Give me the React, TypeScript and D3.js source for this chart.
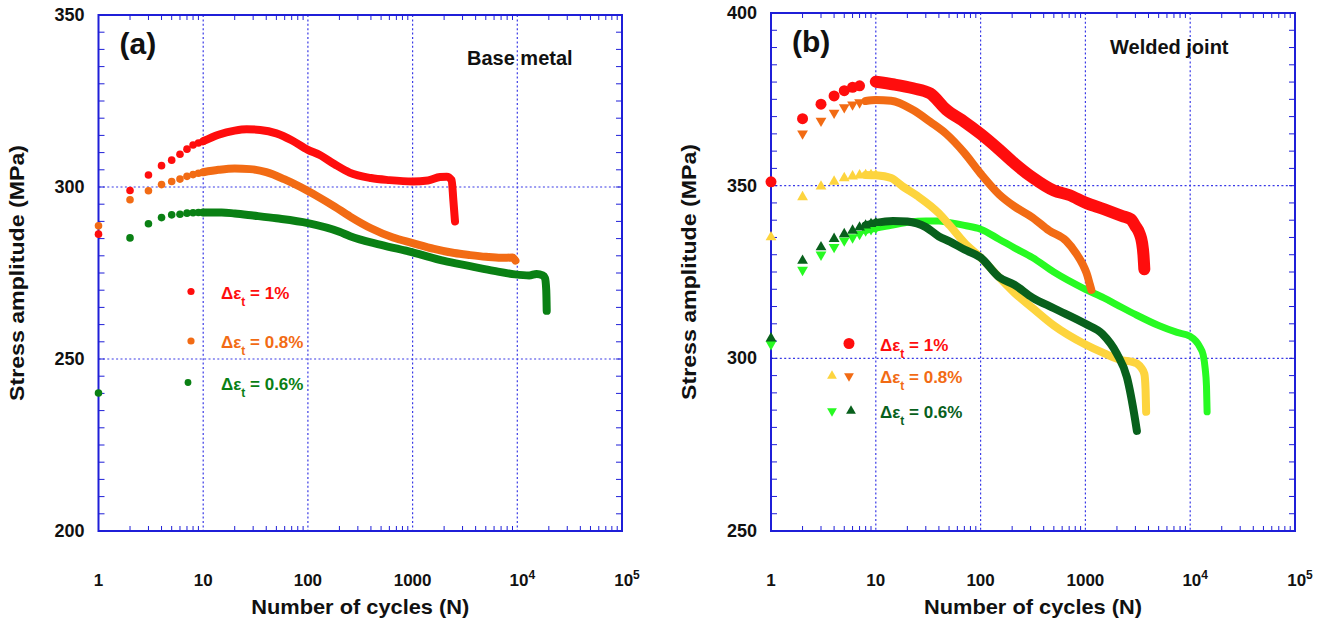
import React from 'react';
import * as d3 from 'd3';

// ---------- panel (a): base metal ----------
const aRedMarkN = [1, 2, 3, 4, 5, 6, 7, 8, 9, 10];
const aRedMarkS = [286.3, 299, 303.5, 306.2, 307.8, 309.5, 311, 312.2, 312.8, 313.3];
const aRedN = [10, 14, 20, 26, 35, 50, 70, 100, 130, 180, 250, 400, 600, 1000, 1400, 1830, 2120, 2360, 2450, 2540];
const aRedS = [313.3, 315.2, 316.4, 316.8, 316.6, 315.6, 313.6, 310.8, 309.3, 306.6, 304.2, 302.6, 302, 301.6, 301.9, 302.9, 303, 302, 296.2, 290];

const aOrangeMarkN = [1, 2, 3, 4, 5, 6, 7, 8, 9, 10];
const aOrangeMarkS = [288.7, 296.3, 298.9, 300.7, 301.6, 302.3, 303.1, 303.6, 304, 304.3];
const aOrangeN = [10, 14, 20, 28, 40, 60, 85, 120, 180, 253, 400, 650, 1000, 1600, 2500, 3540, 5000, 7000, 9000, 9600];
const aOrangeS = [304.3, 305, 305.4, 305.2, 304.3, 302.2, 300, 297.5, 294.3, 291.4, 288, 285.3, 283.7, 282, 280.8, 280.2, 279.7, 279.4, 279.5, 278.6];

const aGreenMarkN = [1, 2, 3, 4, 5, 6, 7, 8, 9, 10];
const aGreenMarkS = [240.1, 285.2, 289.3, 291.1, 291.9, 292.1, 292.4, 292.5, 292.6, 292.6];
const aGreenN = [10, 15, 20, 30, 50, 100, 200, 253, 500, 1000, 2000, 3540, 6000, 9500, 13000, 15300, 17500, 18400, 18900, 19100];
const aGreenS = [292.6, 292.6, 292.3, 291.7, 290.9, 289.5, 287, 285.7, 283.2, 281, 278.5, 277, 275.6, 274.6, 274.3, 274.7, 274.3, 273.5, 270, 264];

// ---------- panel (b): welded joint ----------
const bRedMarkN = [1, 2, 3, 4, 5, 6, 7];
const bRedMarkS = [351.1, 369.4, 373.6, 376, 377.5, 378.5, 378.9];
const bRedN = [10, 15, 22.7, 33, 47, 70, 100, 150, 210, 312, 500, 700, 1000, 1500, 2250, 2700, 3000, 3300, 3470, 3580, 3650];
const bRedS = [380.1, 379.3, 378.2, 376.7, 372, 368.5, 365, 360.5, 356.5, 352.4, 348.6, 347.3, 345.1, 343.2, 341.2, 340.3, 338.3, 336, 333.5, 330, 325.8];

const bOrangeMarkN = [2, 3, 4, 5, 6, 7];
const bOrangeMarkS = [365.1, 368.8, 371.1, 372.7, 373.5, 374.1];
const bOrangeN = [8, 10, 14, 22.7, 33, 47, 70, 100, 150, 210, 312, 450, 656, 820, 950, 1025, 1100, 1140];
const bOrangeS = [374.5, 374.8, 374.6, 371.9, 368.5, 365, 359.5, 353.5, 347.5, 344, 340.8, 337, 334, 330.3, 327, 324.7, 321.5, 319.8];

const bYellowMarkN = [1, 2, 3, 4, 5, 6, 7, 8, 9, 10];
const bYellowMarkS = [335.1, 346.7, 349.8, 351.2, 352.2, 352.7, 353, 353.1, 353.1, 353];
const bYellowN = [8, 10, 14, 18, 25, 40, 51, 70, 100, 150, 210, 312, 500, 1000, 1500, 2250, 2800, 3100, 3400, 3650, 3750, 3800];
const bYellowS = [353.1, 353, 352.2, 349.8, 347, 342, 338.4, 333.5, 329.2, 323.5, 319, 314.6, 309.5, 304, 301.5, 299.4, 299, 298.5, 297.3, 295.5, 291, 284.5];

const bLightMarkN = [1, 2, 3, 4, 5, 6, 7, 8, 9, 10];
const bLightMarkS = [304.1, 325.6, 330, 332.2, 334.1, 335, 336, 337, 337.4, 337.7];
const bLightN = [8, 10, 14, 21, 30, 40, 51, 70, 100, 150, 210, 312, 500, 1000, 1500, 2000, 3000, 5000, 7500, 9950, 12400, 13300, 13900, 14300, 14500];
const bLightS = [337, 337.7, 338.5, 339.5, 339.8, 339.8, 339.3, 338.5, 337.4, 334.5, 332, 329.2, 325, 320, 317.5, 315.5, 312.7, 309.5, 307.5, 306.4, 303.2, 301, 297, 292, 284.5];

const bDarkMarkN = [1, 2, 3, 4, 5, 6, 7, 8, 9, 10];
const bDarkMarkS = [305.8, 328.3, 332.2, 334.6, 336, 337, 337.9, 338.5, 338.9, 339.2];
const bDarkN = [8, 10, 14.6, 20, 30, 40, 51, 70, 100, 150, 210, 312, 500, 1000, 1450, 2000, 2490, 2990, 3100];
const bDarkS = [338.5, 339.2, 339.8, 339.6, 338, 335.3, 333.8, 331.5, 329.2, 323.5, 321.3, 317.6, 314.5, 310, 307.1, 301.3, 294.5, 282, 279];

const xTickLabels = ['1', '10', '100', '1000', '10^4', '10^5'];
const aYTicks = [200, 250, 300, 350];
const bYTicks = [250, 300, 350, 400];

const RED = '#ff0d0d';
const ORANGE = '#f26b14';
const GREEN = '#0a8014';
const YELLOW = '#fdd43e';
const LIGHTGREEN = '#27fa22';
const DARKGREEN = '#08601c';
const AXIS = '#1f1fd8';
const GRID = '#3a3ae6';
const FONT = "'Liberation Sans', Arial, sans-serif";

type Shape = 'circle' | 'up' | 'down';
type Series = {
  markN: number[];
  markS: number[];
  lineN: number[];
  lineS: number[];
  color: string;
  shape: Shape;
  size: number;
  width: number;
};
type LegendRow = { marks: { dx: number; color: string; shape: Shape; size: number }[]; text: string; color: string };

const Marker = ({ cx, cy, shape, size, color }: { cx: number; cy: number; shape: Shape; size: number; color: string }) => {
  if (shape === 'circle') return <circle cx={cx} cy={cy} r={size} fill={color} />;
  const p = d3.symbol(d3.symbolTriangle, size * size * 2.6)() || '';
  return <path d={p} fill={color} transform={`translate(${cx},${cy})${shape === 'down' ? ' rotate(180)' : ''}`} />;
};

function Panel(props: {
  x0: number; x1: number; y0: number; y1: number;
  yDomain: [number, number]; yTicks: number[];
  series: Series[]; letter: string; note: string; noteX: number; noteY: number; noteSize: number;
  legendX: number; legendY: number[]; legendTextX: number; legend: LegendRow[];
  yTitleX: number;
}) {
  const { x0, x1, y0, y1, yDomain } = props;
  const x = d3.scaleLog().domain([1, 1e5]).range([x0, x1]);
  const y = d3.scaleLinear().domain(yDomain).range([y1, y0]);
  const line = d3
    .line<[number, number]>()
    .x((d) => x(d[0]))
    .y((d) => y(d[1]))
    .curve(d3.curveMonotoneX);
  const allX = x.ticks();
  const majors = [1, 10, 100, 1000, 1e4, 1e5];
  const minorX = allX.filter((t) => !majors.includes(t));
  const minorY = d3.range(yDomain[0], yDomain[1] + 0.1, 5);
  const midX = (x0 + x1) / 2;

  return (
    <g fontFamily={FONT} fontWeight="bold">
      {/* grid */}
      {majors.slice(1, -1).map((t) => (
        <line key={'gx' + t} x1={x(t)} x2={x(t)} y1={y0} y2={y1} stroke={GRID} strokeWidth={1.2} strokeDasharray="2 2.4" />
      ))}
      {props.yTicks.slice(1, -1).map((t) => (
        <line key={'gy' + t} x1={x0} x2={x1} y1={y(t)} y2={y(t)} stroke={GRID} strokeWidth={1.2} strokeDasharray="2 2.4" />
      ))}
      {/* frame + ticks */}
      <rect x={x0} y={y0} width={x1 - x0} height={y1 - y0} fill="none" stroke={AXIS} strokeWidth={2} />
      {minorX.map((t) => (
        <g key={'mx' + t}>
          <line x1={x(t)} x2={x(t)} y1={y1} y2={y1 - 5} stroke={AXIS} strokeWidth={1} />
          <line x1={x(t)} x2={x(t)} y1={y0} y2={y0 + 5} stroke={AXIS} strokeWidth={1} />
        </g>
      ))}
      {minorY.map((t) => (
        <g key={'my' + t}>
          <line x1={x0} x2={x0 + 6} y1={y(t)} y2={y(t)} stroke={AXIS} strokeWidth={1} />
          <line x1={x1} x2={x1 - 6} y1={y(t)} y2={y(t)} stroke={AXIS} strokeWidth={1} />
        </g>
      ))}
      {/* tick labels */}
      {props.yTicks.map((t) => (
        <text key={'ly' + t} x={x0 - 14} y={y(t) + 6} textAnchor="end" fontSize={18} fill="#111">
          {t}
        </text>
      ))}
      {majors.map((t, i) => {
        const lab = xTickLabels[i];
        const parts = lab.split('^');
        return (
          <text key={'lx' + t} x={x(t) + (parts.length > 1 ? 5 : 0)} y={586} textAnchor="middle" fontSize={17} fill="#111">
            {parts[0]}
            {parts.length > 1 && (
              <tspan dy={-7} fontSize={12}>
                {parts[1]}
              </tspan>
            )}
          </text>
        );
      })}
      {/* axis titles */}
      <text
        x={midX}
        y={614}
        textAnchor="middle"
        fontSize={21}
        textLength={218}
        lengthAdjust="spacingAndGlyphs"
        fill="#111"
      >
        Number of cycles (N)
      </text>
      <text
        transform={`translate(${props.yTitleX},${(y0 + y1) / 2}) rotate(-90)`}
        textAnchor="middle"
        fontSize={20}
        textLength={256}
        lengthAdjust="spacingAndGlyphs"
        fill="#111"
      >
        Stress amplitude (MPa)
      </text>
      {/* series */}
      {props.series.map((s, i) => (
        <path
          key={'ln' + i}
          d={line(s.lineN.map((n, j) => [n, s.lineS[j]] as [number, number])) || ''}
          fill="none"
          stroke={s.color}
          strokeWidth={s.width}
          strokeLinecap="round"
          strokeLinejoin="round"
        />
      ))}
      {props.series.map((s, i) =>
        s.markN.map((n, j) => (
          <Marker key={'m' + i + '-' + j} cx={x(n)} cy={y(s.markS[j])} shape={s.shape} size={s.size} color={s.color} />
        ))
      )}
      {/* panel letter + note */}
      <text x={x0 + 21} y={y0 + 39} fontSize={30} fill="#111">
        {props.letter}
      </text>
      <text x={props.noteX} y={props.noteY} fontSize={props.noteSize} fill="#111">
        {props.note}
      </text>
      {/* legend */}
      {props.legend.map((row, i) => (
        <g key={'lg' + i}>
          {row.marks.map((m, k) => (
            <Marker key={k} cx={props.legendX + m.dx} cy={props.legendY[i]} shape={m.shape} size={m.size} color={m.color} />
          ))}
          <text x={props.legendTextX} y={props.legendY[i] + 7} fontSize={17} fill={row.color}>
            Δε
            <tspan dy={7} fontSize={12}>t</tspan>
            <tspan dy={-7}>{' ' + row.text}</tspan>
          </text>
        </g>
      ))}
    </g>
  );
}

export default function App() {
  const aSeries: Series[] = [
    { markN: aGreenMarkN, markS: aGreenMarkS, lineN: aGreenN, lineS: aGreenS, color: GREEN, shape: 'circle', size: 3.8, width: 8 },
    { markN: aOrangeMarkN, markS: aOrangeMarkS, lineN: aOrangeN, lineS: aOrangeS, color: ORANGE, shape: 'circle', size: 3.8, width: 8 },
    { markN: aRedMarkN, markS: aRedMarkS, lineN: aRedN, lineS: aRedS, color: RED, shape: 'circle', size: 3.8, width: 8 },
  ];
  const bSeries: Series[] = [
    { markN: bLightMarkN, markS: bLightMarkS, lineN: bLightN, lineS: bLightS, color: LIGHTGREEN, shape: 'down', size: 4.4, width: 7 },
    { markN: bYellowMarkN, markS: bYellowMarkS, lineN: bYellowN, lineS: bYellowS, color: YELLOW, shape: 'up', size: 4.4, width: 8 },
    { markN: bDarkMarkN, markS: bDarkMarkS, lineN: bDarkN, lineS: bDarkS, color: DARKGREEN, shape: 'up', size: 4.4, width: 8 },
    { markN: bOrangeMarkN, markS: bOrangeMarkS, lineN: bOrangeN, lineS: bOrangeS, color: ORANGE, shape: 'down', size: 4.4, width: 8 },
    { markN: bRedMarkN, markS: bRedMarkS, lineN: bRedN, lineS: bRedS, color: RED, shape: 'circle', size: 5.5, width: 12 },
  ];
  const aLegend: LegendRow[] = [
    { marks: [{ dx: 0, color: RED, shape: 'circle', size: 3.6 }], text: '= 1%', color: RED },
    { marks: [{ dx: 0, color: ORANGE, shape: 'circle', size: 3.6 }], text: '= 0.8%', color: ORANGE },
    { marks: [{ dx: -3, color: GREEN, shape: 'circle', size: 3.4 }], text: '= 0.6%', color: GREEN },
  ];
  const bLegend: LegendRow[] = [
    { marks: [{ dx: 0, color: RED, shape: 'circle', size: 5.5 }], text: '= 1%', color: RED },
    {
      marks: [
        { dx: -17, color: YELLOW, shape: 'up', size: 4 },
        { dx: 0, color: ORANGE, shape: 'down', size: 4 },
      ],
      text: '= 0.8%',
      color: ORANGE,
    },
    {
      marks: [
        { dx: -17, color: LIGHTGREEN, shape: 'down', size: 4 },
        { dx: 2, color: DARKGREEN, shape: 'up', size: 4 },
      ],
      text: '= 0.6%',
      color: DARKGREEN,
    },
  ];
  return (
    <svg width={1320} height={621} style={{ position: 'absolute', left: 0, top: 0, background: '#fff' }}>
      <Panel
        x0={98.5} x1={622} y0={15} y1={531}
        yDomain={[200, 350]} yTicks={aYTicks} series={aSeries}
        letter="(a)" note="Base metal" noteX={467} noteY={65} noteSize={20}
        legendX={191} legendY={[291.5, 341, 382.5]} legendTextX={221} legend={aLegend}
        yTitleX={24}
      />
      <Panel
        x0={771} x1={1295} y0={13} y1={531}
        yDomain={[250, 400]} yTicks={bYTicks} series={bSeries}
        letter="(b)" note="Welded joint" noteX={1110} noteY={54} noteSize={20}
        legendX={849} legendY={[343.5, 376, 411]} legendTextX={880} legend={bLegend}
        yTitleX={696}
      />
    </svg>
  );
}
